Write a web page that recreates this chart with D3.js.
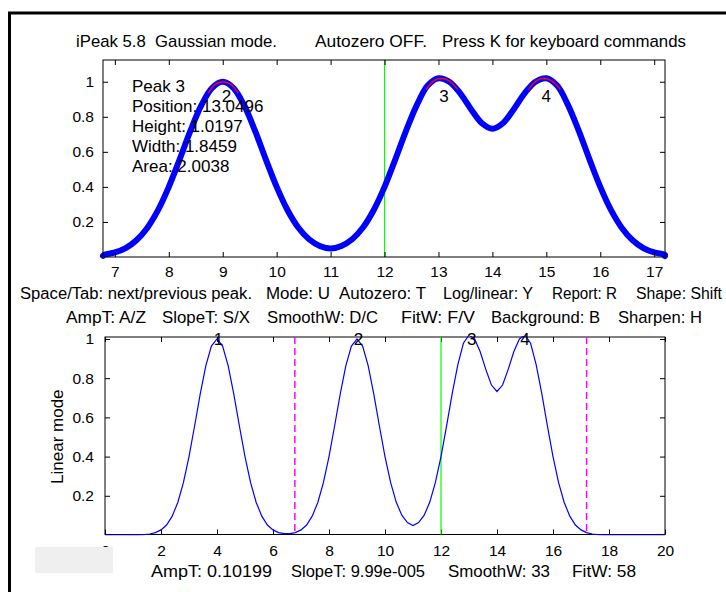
<!DOCTYPE html>
<html><head><meta charset="utf-8">
<script src="https://cdn.jsdelivr.net/npm/d3@7"></script>
<style>body{margin:0;background:#fff;}svg{display:block;font-family:"Liberation Sans",Arial,sans-serif;}</style>
</head><body>
<svg id="c" width="726" height="592"></svg>
<script>
// ---- data ----
const xs = [0.0,0.2,0.4,0.6,0.8,1.0,1.2,1.4,1.6,1.8,2.0,2.2,2.4,2.6,2.8,3.0,3.2,3.4,3.6,3.8,4.0,4.2,4.4,4.6,4.8,5.0,5.2,5.4,5.6,5.8,6.0,6.2,6.4,6.6,6.8,7.0,7.2,7.4,7.6,7.8,8.0,8.2,8.4,8.6,8.8,9.0,9.2,9.4,9.6,9.8,10.0,10.2,10.4,10.6,10.8,11.0,11.2,11.4,11.6,11.8,12.0,12.2,12.4,12.6,12.8,13.0,13.2,13.4,13.6,13.8,14.0,14.2,14.4,14.6,14.8,15.0,15.2,15.4,15.6,15.8,16.0,16.2,16.4,16.6,16.8,17.0,17.2,17.4,17.6,17.8,18.0,18.2,18.4,18.6,18.8,19.0,19.2,19.4,19.6,19.8,20.0];
const ys = [0,0,0,0,0,0.0003,0.0008,0.002,0.005,0.012,0.026,0.051,0.096,0.166,0.267,0.400,0.556,0.719,0.863,0.964,1.000,0.964,0.863,0.719,0.556,0.400,0.267,0.166,0.096,0.051,0.026,0.012,0.007,0.007,0.012,0.026,0.051,0.096,0.166,0.267,0.400,0.556,0.719,0.863,0.964,1.000,0.964,0.863,0.719,0.556,0.400,0.268,0.168,0.101,0.063,0.048,0.063,0.101,0.168,0.268,0.400,0.557,0.721,0.868,0.978,1.020,1.000,0.935,0.845,0.765,0.732,0.765,0.845,0.935,1.000,1.020,0.978,0.868,0.721,0.557,0.400,0.267,0.166,0.096,0.051,0.026,0.012,0.005,0.002,0.0008,0.0003,0,0,0,0,0,0,0,0,0,0];
const fitX = [[8.73,8.86,9.0,9.15,9.29],[12.77,12.91,13.05,13.2,13.36],[14.67,14.81,14.95,15.1,15.26]];
const fitY = [[0.935,0.985,1.0,0.985,0.935],[0.955,1.005,1.02,1.005,0.955],[0.955,1.005,1.02,1.005,0.955]];
const topPeakLabels = ["2","3","4"];
const topPeakX = [9.07,13.1,15.0];
const topPeakY = [0.92,0.92,0.92];
const botPeakLabels = ["1","2","3","4"];
const botPeakX = [4.05,9.05,13.1,15.0];
const topXTicks = [7,8,9,10,11,12,13,14,15,16,17];
const topYTicks = [0.2,0.4,0.6,0.8,1];
const botXTicks = [0,2,4,6,8,10,12,14,16,18,20];
const botYTicks = [0.2,0.4,0.6,0.8,1];
const cursorX = 12;
const windowEdges = [6.78,17.2];
const infoLines = ["Peak 3","Position: 13.0496","Height: 1.0197","Width: 1.8459","Area: 2.0038"];
const titleParts = ["iPeak 5.8  Gaussian mode.","Autozero OFF.","Press K for keyboard commands"];
const row2Parts = ["Space/Tab: next/previous peak.","Mode: U","Autozero: T","Log/linear: Y","Report: R","Shape: Shift"];
const row3Parts = ["AmpT: A/Z","SlopeT: S/X","SmoothW: D/C","FitW: F/V","Background: B","Sharpen: H"];
const bottomParts = ["AmpT: 0.10199","SlopeT: 9.99e-005","SmoothW: 33","FitW: 58"];
const yLabel = "Linear mode";

// ---- layout ----
const svg = d3.select("#c");
const FS = 17, TFS = 15.5;
const data = xs.map((x,i)=>({x, y: ys[i]}));

// frame
svg.append("line").attr("x1",8).attr("x2",726).attr("y1",13).attr("y2",13).attr("stroke","#000").attr("stroke-width",3);
svg.append("line").attr("x1",9.5).attr("x2",9.5).attr("y1",12).attr("y2",592).attr("stroke","#000").attr("stroke-width",3);

function textRow(parts, starts, ends, y, fs){
  parts.forEach((t,i)=>{
    const el = svg.append("text").attr("x",starts[i]).attr("y",y).attr("dy","0.35em")
      .attr("font-size",fs||FS).attr("fill","#000").attr("xml:space","preserve").text(t);
    if (ends && ends[i]) el.attr("textLength", ends[i]-starts[i]).attr("lengthAdjust","spacingAndGlyphs");
  });
}
textRow(titleParts,[76,315,442],[277,427,686],41.5);
textRow(row2Parts,[20,266,339,443,552,636],[252,330,426,533,617,722],293.5,16);
textRow(row3Parts,[66,162,267,401,491,618],[146,250,378,475,600,702],316.7);

// ---- top plot ----
const T = {l:103, r:665, t:60, b:257};
const tx = d3.scaleLinear().domain(windowEdges).range([T.l,T.r]);
const ty = d3.scaleLinear().domain([0,1.124]).range([T.b,T.t]);
svg.append("clipPath").attr("id","ct").append("rect").attr("x",T.l-4).attr("y",T.t).attr("width",T.r-T.l+8).attr("height",T.b-T.t+4);
const gT = svg.append("g");
gT.append("line").attr("x1",tx(cursorX)).attr("x2",tx(cursorX)).attr("y1",T.t).attr("y2",T.b).attr("stroke","#00ff00").attr("stroke-width",1.2);
const topData = data.filter(d=>d.x>=6.6 && d.x<=17.4);
gT.append("path").attr("clip-path","url(#ct)").datum(topData)
  .attr("d", d3.line().x(d=>tx(Math.min(Math.max(d.x,windowEdges[0]),windowEdges[1]))).y(d=>ty(d.y)).curve(d3.curveCatmullRom))
  .attr("fill","none").attr("stroke","#0000ff").attr("stroke-width",6).attr("stroke-linecap","round").attr("stroke-linejoin","round");
fitX.forEach((fx,k)=>{
  const pts = fx.map((x,i)=>[tx(x),ty(fitY[k][i])]);
  gT.append("path").attr("d",d3.line().curve(d3.curveCatmullRom)(pts)).attr("fill","none").attr("stroke","#ff0000").attr("stroke-width",1.3);
});
gT.append("rect").attr("x",T.l).attr("y",T.t).attr("width",T.r-T.l).attr("height",T.b-T.t).attr("fill","none").attr("stroke","#000").attr("stroke-width",1);
const gxb = gT.append("g").attr("transform",`translate(0,${T.b})`).call(d3.axisBottom(tx).tickValues(topXTicks).tickSizeInner(-5).tickSizeOuter(0).tickFormat(d3.format("d")));
const gxt = gT.append("g").attr("transform",`translate(0,${T.t})`).call(d3.axisTop(tx).tickValues(topXTicks).tickSizeInner(-5).tickSizeOuter(0).tickFormat(""));
const gyl = gT.append("g").attr("transform",`translate(${T.l},0)`).call(d3.axisLeft(ty).tickValues(topYTicks).tickSizeInner(-5).tickSizeOuter(0).tickPadding(9).tickFormat(d=>d===1?"1":d3.format(".1f")(d)));
const gyr = gT.append("g").attr("transform",`translate(${T.r},0)`).call(d3.axisRight(ty).tickValues(topYTicks).tickSizeInner(-5).tickSizeOuter(0).tickFormat(""));
[gxb,gxt,gyl,gyr].forEach(g=>{g.select(".domain").remove(); g.selectAll("line").attr("stroke","#000"); g.selectAll("text").attr("font-size",TFS).attr("fill","#000").attr("font-family","Liberation Sans, Arial, sans-serif");});
gxb.selectAll("text").attr("y",271.7-T.b).attr("dy","0.35em");
topPeakLabels.forEach((t,i)=>{
  gT.append("text").attr("x",tx(topPeakX[i])).attr("y",ty(topPeakY[i])).attr("dy","0.35em").attr("text-anchor","middle").attr("font-size",FS).attr("fill","#000").text(t);
});
infoLines.forEach((t,i)=>{
  gT.append("text").attr("x",132).attr("y",86+i*20).attr("dy","0.35em").attr("font-size",FS).attr("fill","#000").text(t);
});

// ---- bottom plot ----
const B = {l:105, r:665, t:337, b:534.5};
const bx = d3.scaleLinear().domain([0,20]).range([B.l,B.r]);
const by = d3.scaleLinear().domain([0,1.01]).range([535,B.t]);
svg.append("clipPath").attr("id","cb").append("rect").attr("x",B.l).attr("y",B.t-1).attr("width",B.r-B.l).attr("height",B.b-B.t+2);
const gB = svg.append("g");
gB.append("rect").attr("x",B.l).attr("y",B.t).attr("width",B.r-B.l).attr("height",B.b-B.t).attr("fill","none").attr("stroke","#000").attr("stroke-width",1);
const bxb = gB.append("g").attr("transform",`translate(0,${B.b})`).call(d3.axisBottom(bx).tickValues(botXTicks).tickSizeInner(-5).tickSizeOuter(0).tickFormat(d3.format("d")));
const bxt = gB.append("g").attr("transform",`translate(0,${B.t})`).call(d3.axisTop(bx).tickValues(botXTicks).tickSizeInner(-5).tickSizeOuter(0).tickFormat(""));
const byl = gB.append("g").attr("transform",`translate(${B.l},0)`).call(d3.axisLeft(by).tickValues(botYTicks).tickSizeInner(-5).tickSizeOuter(0).tickPadding(11).tickFormat(d=>d===1?"1":d3.format(".1f")(d)));
const byr = gB.append("g").attr("transform",`translate(${B.r},0)`).call(d3.axisRight(by).tickValues(botYTicks).tickSizeInner(-5).tickSizeOuter(0).tickFormat(""));
[bxb,bxt,byl,byr].forEach(g=>{g.select(".domain").remove(); g.selectAll("line").attr("stroke","#000"); g.selectAll("text").attr("font-size",TFS).attr("fill","#000").attr("font-family","Liberation Sans, Arial, sans-serif");});
bxb.selectAll("text").attr("y",550.7-B.b).attr("dy","0.35em");
gB.append("line").attr("x1",bx(cursorX)).attr("x2",bx(cursorX)).attr("y1",B.t).attr("y2",B.b).attr("stroke","#00ff00").attr("stroke-width",1.2);
windowEdges.forEach(e=>{
  gB.append("line").attr("x1",bx(e)).attr("x2",bx(e)).attr("y1",B.t).attr("y2",B.b).attr("stroke","#ff00ff").attr("stroke-width",1.5).attr("stroke-dasharray","7,4");
});
gB.append("path").attr("clip-path","url(#cb)").datum(data)
  .attr("d", d3.line().x(d=>bx(d.x)).y(d=>by(d.y)))
  .attr("fill","none").attr("stroke","#0000ff").attr("stroke-width",1.2);
botPeakLabels.forEach((t,i)=>{
  gB.append("text").attr("x",bx(botPeakX[i])).attr("y",339).attr("dy","0.35em").attr("text-anchor","middle").attr("font-size",FS).attr("fill","#000").text(t);
});
svg.append("text").attr("transform","translate(57,436.7) rotate(-90)").attr("text-anchor","middle").attr("dy","0.35em").attr("font-size",FS).attr("fill","#000").text(yLabel);
svg.append("rect").attr("x",35).attr("y",547).attr("width",78).attr("height",26).attr("fill","#efefef");
textRow(bottomParts,[151,291,448,572],[272,425,550,636],570.7);
</script>
</body></html>
